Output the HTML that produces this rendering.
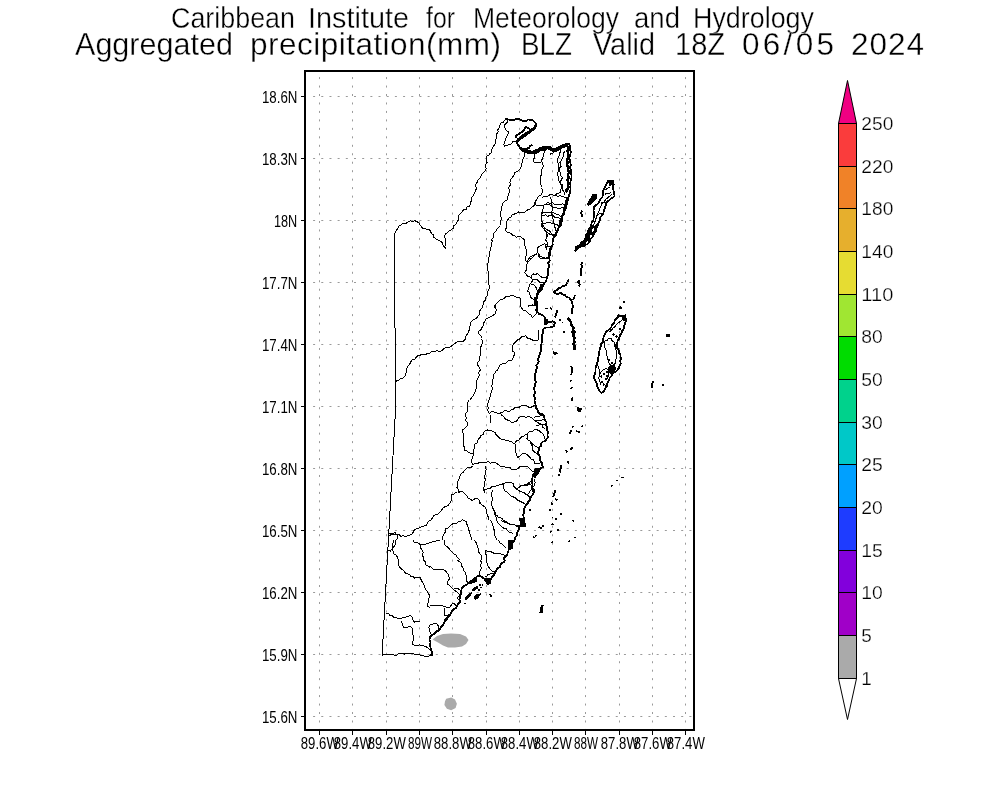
<!DOCTYPE html>
<html><head><meta charset="utf-8"><title>Aggregated precipitation BLZ</title>
<style>html,body{margin:0;padding:0;background:#fff;width:1000px;height:800px;overflow:hidden}svg{display:block;will-change:transform}</style>
</head><body>
<svg width="1000" height="800" viewBox="0 0 1000 800" font-family="Liberation Sans, sans-serif" fill="#000"><text x="171.0" y="27.9" font-size="29" text-anchor="start" textLength="124.0" lengthAdjust="spacingAndGlyphs" stroke="#fff" stroke-width="0.35">Caribbean</text>
<text x="308.0" y="27.9" font-size="29" text-anchor="start" textLength="101.0" lengthAdjust="spacingAndGlyphs" stroke="#fff" stroke-width="0.35">Institute</text>
<text x="426.0" y="27.9" font-size="29" text-anchor="start" textLength="29.0" lengthAdjust="spacingAndGlyphs" stroke="#fff" stroke-width="0.35">for</text>
<text x="473.0" y="27.9" font-size="29" text-anchor="start" textLength="146.0" lengthAdjust="spacingAndGlyphs" stroke="#fff" stroke-width="0.35">Meteorology</text>
<text x="634.0" y="27.9" font-size="29" text-anchor="start" textLength="46.0" lengthAdjust="spacingAndGlyphs" stroke="#fff" stroke-width="0.35">and</text>
<text x="693.0" y="27.9" font-size="29" text-anchor="start" textLength="121.0" lengthAdjust="spacingAndGlyphs" stroke="#fff" stroke-width="0.35">Hydrology</text>
<text x="75.0" y="55.2" font-size="31.5" text-anchor="start" textLength="158.0" lengthAdjust="spacingAndGlyphs" stroke="#fff" stroke-width="0.35">Aggregated</text>
<text x="250.0" y="55.2" font-size="31.5" text-anchor="start" textLength="251.0" lengthAdjust="spacing" stroke="#fff" stroke-width="0.35">precipitation(mm)</text>
<text x="521.0" y="55.2" font-size="31.5" text-anchor="start" textLength="51.0" lengthAdjust="spacingAndGlyphs" stroke="#fff" stroke-width="0.35">BLZ</text>
<text x="593.0" y="55.2" font-size="31.5" text-anchor="start" textLength="62.0" lengthAdjust="spacingAndGlyphs" stroke="#fff" stroke-width="0.35">Valid</text>
<text x="675.0" y="55.2" font-size="31.5" text-anchor="start" textLength="50.0" lengthAdjust="spacingAndGlyphs" stroke="#fff" stroke-width="0.35">18Z</text>
<text x="742.0" y="55.2" font-size="31.5" text-anchor="start" textLength="92.0" lengthAdjust="spacing" stroke="#fff" stroke-width="0.35">06/05</text>
<text x="851.0" y="55.2" font-size="31.5" text-anchor="start" textLength="73.0" lengthAdjust="spacing" stroke="#fff" stroke-width="0.35">2024</text>
<path d="M319.5 77.07V729 M352.5 77.07V729 M386.5 77.07V729 M419.5 77.07V729 M452.5 77.07V729 M486.5 77.07V729 M519.5 77.07V729 M552.5 77.07V729 M585.5 77.07V729 M619.5 77.07V729 M652.5 77.07V729 M685.5 77.07V729" stroke="#9a9a9a" stroke-width="1" stroke-dasharray="2 6.466" fill="none"/>
<path d="M313.1 96.5H693 M313.1 158.5H693 M313.1 220.5H693 M313.1 282.5H693 M313.1 344.5H693 M313.1 406.5H693 M313.1 468.5H693 M313.1 530.5H693 M313.1 592.5H693 M313.1 654.5H693 M313.1 716.5H693" stroke="#9a9a9a" stroke-width="1" stroke-dasharray="2 6.18" fill="none"/>
<path d="M432.5 639.5 437.0 636.0 443.0 634.0 451.0 633.5 460.0 634.0 466.0 636.5 468.5 640.0 466.0 644.0 462.0 646.5 455.0 647.5 448.0 647.5 443.0 645.5 438.0 642.5ZM446.2 698.8 451.2 697.5 455.0 699.4 456.9 703.8 455.6 708.1 451.2 710.2 446.9 708.8 444.4 705.0 445.0 701.2Z" fill="#aaaaaa" stroke="none"/>
<g id="map" fill="none" stroke="#000" stroke-width="1" stroke-linejoin="round" shape-rendering="crispEdges"><path d="M505.9 118.6 504.7 120.3 503.5 122.0 501.3 122.8 500.0 124.5M490.0 152.8 489.0 155.0 486.9 155.9 486.6 158.0 486.7 160.2 487.1 162.4 485.9 164.4 485.6 166.6 486.2 168.9 485.0 170.9 483.2 172.9 481.2 174.7 480.7 177.0 479.4 178.9 477.5 180.3 477.1 182.5 475.9 184.5 476.0 186.9 476.0 189.6 475.0 192.0 473.8 194.4 472.8 196.2 471.5 197.8 471.5 199.9 470.9 201.9 470.2 204.3 469.1 206.6 466.9 207.0 466.3 209.6 463.7 209.5 462.5 211.2 460.9 213.4 458.8 215.0 458.8 217.7 458.2 220.2 456.9 222.5 456.0 224.4 454.0 225.4 453.9 227.8 452.2 229.1 450.5 230.1 448.7 231.2 447.4 232.8 445.6 233.8 444.7 235.2 444.7 237.4 445.7 239.6 445.8 241.8 445.7 244.0 444.8 246.2 445.2 248.4 444.0 246.4 442.7 244.4 441.9 242.2 439.8 240.8 437.5 239.8 435.3 238.4 433.7 237.1 433.3 234.9 431.6 233.8 430.5 231.2 428.8 229.1 426.7 229.4 424.8 228.5 422.8 228.5 421.3 226.4 419.8 224.4 418.5 222.5 416.6 221.5 414.7 220.6 412.6 221.5 410.1 220.7 408.1 222.1 405.5 223.5 402.5 223.4 401.1 225.1 399.0 226.2 397.8 228.1 395.9 231.5M508.1 119.5 507.2 122.4 505.0 124.5 504.7 127.0 505.5 128.9 506.2 130.8 508.1 131.4 508.4 133.8 506.9 135.8 505.6 139.5 504.4 141.9 503.8 144.5 504.4 146.4 507.5 145.1 511.2 143.9 513.1 141.4 516.9 140.8M525.0 152.0 524.4 155.8 523.1 158.9 521.9 162.0M535.0 150.8 534.5 153.2 535.0 155.8 534.4 157.8 533.4 159.8 533.8 162.0M545.0 148.2 545.0 150.8 543.8 153.2 543.8 155.8 542.7 157.8 541.9 159.9 541.2 162.0M500.0 124.9 499.4 125.6 499.0 127.7 497.9 129.7 498.1 131.9 496.6 133.9 496.9 136.5 496.2 138.8 495.3 140.7 495.8 143.2 494.4 145.0 493.2 146.7 492.5 148.6 491.1 150.2 491.2 152.5 490.0 154.0M565.0 151.2 563.6 153.1 563.7 155.6 562.5 157.5 561.5 160.1 560.0 162.5 561.2 166.2 559.7 167.9 558.8 170.0 560.3 172.3 560.0 175.0 562.5 177.5 561.3 180.0 560.0 182.5 561.5 184.8 562.4 187.3 562.5 190.0 564.2 192.2 564.2 195.0M522.5 162.0 521.4 164.0 521.2 166.2 520.6 168.5 518.8 170.0 517.2 171.7 515.0 172.5 513.9 175.1 512.5 177.5 510.6 179.7 510.0 182.5 510.2 185.2 508.8 187.5 509.2 190.0 509.4 192.5 507.8 195.0M534.8 162.0 535.0 162.5 537.5 162.6 540.0 162.5 540.5 162.0M542.9 162.0 542.6 164.3 543.8 166.2 542.3 168.1 541.4 170.1 541.2 172.5 541.3 174.7 540.6 176.7 540.0 178.8 540.7 180.8 540.1 183.1 541.2 185.0 541.0 187.7 542.5 190.0 542.3 192.7 540.8 195.0M560.0 150.0 560.1 152.2 559.5 154.1 559.0 156.1 558.0 158.0 557.5 160.0 557.7 162.5 558.8 164.9 558.8 167.5 559.1 170.2 557.5 172.5 557.9 175.0 558.2 177.5 558.1 180.0 559.5 181.8 560.4 183.9 562.5 185.0 561.3 187.4 560.8 190.0 560.0 192.5 557.4 193.5 555.0 195.0 555.0 195.0M550.0 154.2 552.7 153.1 555.0 151.2M508.4 195.0 507.5 197.5 507.0 199.9 505.0 201.2 503.1 202.7 502.5 205.0 501.3 207.4 501.2 210.0 500.5 212.5 500.7 215.0 501.2 217.5 501.0 220.0 500.6 222.5 500.0 225.0M540.4 195.0 537.5 197.5 536.9 199.8 535.0 201.2 535.6 205.0 538.4 205.6 541.2 205.6 543.8 205.0M535.0 202.5 534.5 204.7 533.2 206.4 531.2 207.5 529.7 209.2 527.5 210.0 525.3 211.9 522.5 212.5 518.8 211.9 517.0 213.1 515.0 213.8 511.9 215.0 510.9 217.2 508.8 218.1 506.9 221.2 506.2 225.0 506.6 227.7 505.0 230.0 507.5 232.5 510.3 233.1 512.5 235.0 514.8 235.6 516.2 237.5 519.4 236.2 521.4 237.3 523.1 238.8 524.9 240.6 525.0 243.1 524.7 245.6 525.6 247.7 526.2 250.0M543.8 205.0 543.8 207.7 542.5 210.0 542.4 212.6 541.2 215.0 541.6 217.5 541.2 220.0 542.1 222.4 542.5 225.0 544.4 227.2 545.0 230.0 547.5 232.5 546.2 234.8 546.2 237.5 545.9 240.2 547.5 242.5 547.2 245.0 546.7 247.5 546.2 250.0M542.5 197.5 544.8 196.1 547.5 196.2 549.8 194.9 552.5 195.0M552.5 195.0 555.1 195.3 557.5 196.2 560.0 195.8 562.5 196.2 564.8 197.5 567.5 197.5M543.8 205.0 545.8 204.3 547.9 204.0 550.0 205.0 552.1 207.1 555.0 207.5 557.5 208.2 560.0 208.8 562.3 207.4 565.0 207.5M541.2 215.0 543.3 215.5 545.6 214.9 547.5 216.2 550.0 215.7 552.5 215.0 554.6 217.1 557.5 217.5 560.0 218.2 562.5 217.5M542.5 223.8 545.1 223.5 547.5 222.5 550.1 222.7 552.5 223.8 555.1 224.1 557.5 225.0 560.0 226.2M550.0 197.5 551.3 199.8 551.2 202.5 551.3 205.1 552.5 207.5 552.1 210.0 551.9 212.5 551.6 215.1 552.5 217.5 553.5 219.9 553.8 222.5 554.9 224.9 555.0 227.5 556.2 231.2M547.5 232.5 549.7 234.3 552.5 235.0 555.0 237.5M488.9 260.0 488.8 261.2 487.7 263.5 487.9 265.7 487.9 268.0 487.8 270.2 488.4 272.5 488.0 274.8 489.1 277.0 488.6 279.3 489.0 281.5 488.8 283.8 489.4 286.4 489.1 288.9 487.8 291.2 487.5 293.7 486.9 296.1 485.3 298.2 485.0 300.6 483.4 302.2 483.7 304.4 482.1 305.9 482.2 308.1 480.4 309.6 479.5 311.5 479.6 313.9 478.4 315.6 477.2 317.3 475.7 318.6 473.8 319.4 470.9 322.2 470.9 324.7 469.6 326.9 469.4 329.8 468.1 332.5 467.0 334.6 465.5 336.6 465.3 339.1 462.5 341.9 459.7 341.2 456.9 341.9 455.3 343.2 453.6 344.1 452.2 345.6 449.4 347.5 446.5 347.4 443.8 348.4 442.4 350.5 440.0 351.2 437.2 350.9 434.4 351.2 431.7 351.4 429.7 353.1 427.1 353.5 425.0 355.0 422.8 354.5 420.6 355.0 418.4 355.0 415.6 357.8 414.5 359.6 412.1 359.9 410.9 361.6 409.8 364.1 408.1 366.2 406.6 368.9 406.2 371.9 405.3 375.6 402.5 378.4 400.2 378.5 398.8 380.3 395.9 381.2M495.0 305.4 494.4 306.2 495.0 307.5M495.0 313.9 493.0 315.3 490.9 316.5 488.8 317.5 486.2 318.7 485.0 321.2 483.7 322.9 483.7 325.3 482.2 326.9 481.5 328.9 480.2 330.4 478.4 331.6 479.1 334.3 481.2 336.2 481.0 338.8 482.6 341.2 482.2 343.8 481.2 345.9 480.5 348.1 480.8 350.4 481.0 352.8 480.3 355.0 479.5 356.8 479.6 359.0 479.1 361.0 477.5 362.5 477.3 364.7 478.6 366.4 479.6 368.1 480.3 370.0 478.8 372.3 479.2 375.0 478.4 377.5 477.1 379.8 476.6 382.3 476.6 385.0 476.5 387.6 475.8 390.1 474.7 392.5 473.9 394.6 472.9 396.5 471.2 398.0 470.2 400.0M490.0 397.5 489.7 400.0M500.0 226.1 497.2 228.5 496.0 230.9 494.0 232.8 493.7 235.0 493.8 237.2 491.8 239.0 492.1 241.2 491.9 243.8 491.2 246.3 490.6 248.8 490.2 251.0 489.2 253.1 489.9 255.5 488.6 257.6 489.1 260.0M526.2 250.0 526.2 252.5 526.2 255.0 525.6 257.5 525.0 260.0 527.5 262.5 526.8 265.0 526.2 267.5 526.2 270.3 524.4 272.5 526.0 274.3 527.5 276.2 531.2 277.5 532.5 280.0 531.8 282.2 530.0 283.8 528.8 287.5 527.5 291.2 529.6 292.6 530.0 295.0 530.8 297.2 532.5 298.8 534.4 300.0M550.8 250.0 550.6 252.5 550.3 255.2 548.8 257.5 545.0 258.1 542.5 257.2 540.0 256.2 539.1 254.1 537.5 252.5 537.8 250.0M527.5 262.5 529.2 260.9 530.6 258.9 532.5 257.5 534.2 255.9 535.9 254.2 537.5 252.5M532.5 273.8 535.0 274.3 537.5 273.8 540.0 276.2 542.5 277.5 546.2 277.5M532.5 273.8 531.2 277.5M532.5 280.0 535.0 279.2 537.5 280.0 540.0 282.5 543.8 282.5M530.0 283.8 533.8 285.0 536.2 287.5 537.5 291.2 540.0 291.2M527.5 306.2 530.0 305.7 532.5 305.0 536.2 306.2 537.4 308.6 537.5 311.2 536.6 313.4 535.0 315.0 532.5 317.5 531.0 315.2 528.8 313.8 526.2 311.2 523.1 310.0M495.0 314.4 495.0 314.4 495.6 312.2 496.2 310.0 495.7 307.5 495.0 305.0 497.5 302.5 500.0 300.0 503.8 298.8 506.2 296.2 508.8 296.5 511.2 295.6 515.0 296.2 517.3 297.7 520.0 297.5 520.4 300.0 520.6 302.5 520.7 305.0 521.2 307.5 523.1 310.0M538.8 330.0 538.6 332.0 538.5 334.0 538.0 336.0 538.3 338.0 538.1 340.0 535.9 340.2 533.8 340.6 531.9 339.7 530.0 338.8 527.5 338.1 525.6 335.6 523.8 336.9 521.5 337.0 520.0 338.8 517.9 339.7 516.2 341.2 513.8 343.8 512.4 346.1 512.5 348.8 512.6 351.0 514.4 352.5 514.2 355.1 513.1 357.5 512.5 360.0 508.8 360.6 506.8 362.1 505.0 363.8 502.5 363.8 500.0 365.0 498.8 367.5 497.5 370.0 495.7 371.1 495.0 373.1 493.1 375.0 493.5 377.6 492.5 380.0 493.0 382.2 492.2 384.2 491.9 386.2 492.5 388.4 492.0 390.5 491.2 392.5 490.0 395.0 491.2 397.5M490.0 412.5 492.5 411.6 495.0 412.5 497.5 413.1 500.0 413.1 502.8 412.0 505.0 410.0 507.3 411.4 510.0 411.2 511.3 409.4 513.6 409.1 515.0 407.5 517.5 407.5 520.0 406.9 521.6 405.3 523.8 405.0 527.5 406.2 530.0 408.1 532.5 406.2 535.6 405.6M500.6 413.1 501.6 415.2 503.8 416.2 505.0 418.8 507.5 420.0 509.7 420.8 511.2 422.5 515.0 421.9 517.6 420.3 518.8 417.5 522.5 416.2 526.2 417.5 528.8 416.2 531.2 417.5 533.8 420.0 535.7 421.1 537.5 422.5 540.0 423.7 542.5 425.0 542.9 427.4 545.0 428.8M490.0 415.0 490.0 417.7 491.2 420.0 490.0 422.5M533.8 417.5 535.9 416.3 538.2 416.4 540.5 416.0 542.7 415.2 545.0 415.0M535.0 421.2 536.9 420.4 539.0 420.4 541.1 420.9 542.9 419.3 545.0 420.0M536.2 425.0 538.2 425.1 540.2 424.9 542.2 424.0 544.2 424.7 546.2 425.0M469.2 400.0 468.1 401.2 467.6 403.7 467.5 406.2 467.2 408.8 467.8 411.2 465.8 413.3 465.9 415.7 466.2 418.1 465.6 420.7 467.7 423.0 467.2 425.6 465.9 427.2 464.6 428.8 462.5 429.4 462.2 431.8 463.4 434.0 463.9 436.3 463.4 438.8 463.8 441.0 463.0 443.3 463.4 445.6 464.7 447.7 464.4 450.0 466.6 450.3 468.1 451.9 470.7 453.6 473.8 453.8 472.7 456.5 471.9 459.4 471.9 462.3 472.8 465.0M488.1 400.0 488.3 402.7 486.9 405.0 488.4 407.3 487.8 410.1 488.8 412.5 490.0 413.8M480.0 436.9 478.9 438.8 477.5 440.6 477.3 442.9 474.8 444.0 474.7 446.2 474.1 448.7 473.5 451.2 473.8 453.8M472.8 465.0 474.7 463.3 477.5 463.8 479.4 462.2 480.0 462.1M472.8 465.9 471.0 467.7 468.2 467.1 466.2 468.8 464.4 470.7 462.7 472.7 460.6 474.4 459.6 477.2 458.8 480.0 457.3 482.3 458.0 485.1 456.9 487.5 458.5 489.6 458.8 492.2 462.5 491.2 464.3 493.2 466.2 495.0 467.7 496.6 468.1 498.8 470.3 499.0 471.9 500.6 474.5 499.0 477.5 498.8 479.6 500.8 480.0 503.8M490.0 520.0 491.8 522.2 492.5 525.0 493.5 527.4 494.1 529.9 494.4 532.5 494.5 535.1 496.0 537.4 496.2 540.0M456.9 492.2 455.0 493.1 453.4 494.6 451.2 495.0 451.2 497.5 451.6 500.1 450.3 502.5 449.1 504.1 447.8 505.8 445.6 506.2 443.4 507.8 441.8 509.9 440.0 511.9 438.5 513.8 436.3 514.7 433.9 515.4 432.5 517.5 431.2 519.9 428.8 521.2 427.2 522.8 426.9 525.0 424.1 526.1 421.2 526.9 419.4 527.8 417.5 528.8 415.3 529.1 413.8 530.6 413.0 532.6 411.9 534.4 409.1 535.3 406.2 536.2 403.4 535.9 400.6 536.2 399.2 534.4 396.9 534.4 394.1 534.7 391.2 534.4 389.4 536.2M462.5 519.4 464.1 520.9 466.2 521.2 466.8 524.2 468.1 526.9 468.5 529.4 469.6 531.8 470.0 534.4 471.2 537.1 471.9 540.0M462.5 519.4 461.0 521.1 458.8 521.2 457.2 522.8 455.4 523.9 452.9 523.6 451.2 525.0 449.6 526.7 447.9 528.1 445.6 528.8 445.5 531.8 443.8 534.4 442.6 537.1 442.8 540.0M523.8 520.0 522.4 522.3 522.5 525.0 520.5 525.6 518.8 526.9 516.7 526.3 515.0 525.0 512.4 524.9 509.9 524.2 507.5 523.1 505.4 522.2 503.0 521.7 501.2 520.0M535.0 478.8 534.9 480.8 535.1 483.0 534.4 485.0 533.0 487.3 532.6 489.8 533.1 492.5 532.1 495.0 531.2 497.5M480.0 437.5 480.8 435.5 483.2 434.7 483.8 432.5 485.4 430.9 487.5 430.0 490.1 430.3 492.5 431.2 495.1 432.4 496.2 435.0 498.3 436.7 500.0 438.8 502.5 439.3 505.0 440.0 507.5 440.6 510.0 441.2 512.2 442.0 513.8 443.8 515.4 442.5 516.5 440.5 518.8 440.0 520.1 438.4 521.6 436.8 523.8 436.2 525.5 434.8 527.5 433.8 529.6 431.7 532.5 431.2 534.8 429.7 537.5 430.0M537.5 430.0 539.6 430.9 541.2 432.5 543.8 435.0 545.0 438.8M527.5 433.8 527.7 436.3 526.9 438.8 528.3 440.1 530.0 441.2 531.8 443.2 533.8 445.0 536.0 446.7 538.8 447.5M515.0 443.8 515.0 446.3 515.6 448.8 515.5 451.3 516.2 453.8 517.5 457.5 520.0 456.2 522.5 453.8 525.0 453.1 527.5 455.0 530.0 457.5 531.5 459.4 533.8 460.0 535.0 463.8 538.8 463.8 541.2 462.5M530.0 441.9 531.0 443.7 532.0 445.5 532.5 447.5 532.9 450.4 535.0 452.5 537.4 453.9 538.8 456.2M480.0 462.5 482.1 462.9 484.2 462.8 486.2 462.5 488.3 461.6 490.4 463.2 492.5 462.5 496.2 463.1 498.8 465.0 500.6 466.4 502.8 466.5 505.0 466.9 507.4 467.7 510.0 467.5 511.5 469.3 513.8 470.0 517.5 468.8 519.7 466.9 522.5 466.2 525.0 466.3 527.5 466.2 530.0 468.8 532.5 471.2 535.0 472.5M485.0 465.6 485.6 467.8 486.2 470.0 485.0 472.3 485.0 475.0 484.7 477.6 485.6 480.0 484.4 482.3 484.4 485.0 483.9 487.5 483.8 490.0 485.0 492.5M483.8 490.0 487.5 488.8 490.4 488.2 492.5 486.2 494.7 486.2 496.7 485.8 498.8 485.0 502.5 483.8 506.2 482.5 508.8 482.0 511.2 482.5 513.3 483.9 513.8 486.2 516.2 488.8 518.8 487.5 520.9 485.6 523.8 485.0 527.5 483.8 529.2 482.3 531.2 481.2M502.5 483.8 503.9 486.1 503.8 488.8 505.2 491.1 507.5 492.5 509.3 494.5 511.2 496.2 515.0 497.5 517.5 500.0 520.0 501.2 522.5 502.5 525.0 503.8M516.2 488.8 518.0 490.2 520.0 491.2 523.8 492.5 525.5 494.0 527.5 495.0 530.0 497.5M492.5 490.0 491.8 492.5 491.9 495.0 491.9 497.1 492.9 499.2 491.9 501.2 491.5 503.4 491.8 505.5 492.5 507.5 493.7 510.0 495.0 512.5 495.6 515.0 496.2 517.5 496.9 520.0M480.0 502.5 481.6 504.6 483.8 506.2 485.7 507.6 486.2 510.0 486.4 512.6 487.5 515.0 488.3 517.4 488.1 520.0M523.8 486.2 527.5 485.0 530.0 483.8 531.3 485.7 531.3 487.8 531.2 490.0 529.6 491.6 528.8 493.8M382.9 655.0 385.2 654.1 387.7 654.9 390.0 654.1 393.8 655.0 396.9 655.0 399.4 653.1 402.2 653.6 405.0 654.1 407.5 653.5 410.0 653.4 412.5 653.1 415.2 654.4 418.1 655.0 420.0 654.9M394.2 540.0 393.8 540.6 392.9 543.1 392.9 545.6 392.8 548.1 393.0 551.0 393.8 553.8 396.2 555.0 397.5 557.5 398.5 559.9 398.6 562.4 398.4 565.0 399.5 567.2 401.2 568.8 403.4 570.3 405.0 572.5 406.8 573.9 409.3 574.2 410.6 576.2 412.9 576.4 414.4 578.1 417.1 577.2 420.0 577.2 421.0 579.5 422.2 581.8 423.8 583.8 424.4 586.7 425.6 589.4 427.2 591.0 428.1 593.1 429.4 595.0 429.0 597.8 428.4 600.6 428.0 603.4 427.5 606.2 430.0 607.5M413.1 540.0 414.4 542.5 417.4 542.7 420.0 544.4 420.2 547.4 421.9 550.0 423.1 552.4 422.2 555.2 423.8 557.5 423.5 560.2 425.9 562.3 425.6 565.0 427.5 565.9 429.4 566.9 430.0 567.2M420.0 544.4 422.6 544.7 425.1 544.7 427.5 543.4 430.0 542.7 432.4 541.7 435.0 541.6 437.2 540.2 439.7 540.0M444.0 540.0 444.4 542.5 444.5 544.8 446.2 546.2 448.5 547.7 450.0 550.0 451.8 552.0 453.8 553.8 456.1 555.1 457.5 557.5 460.0 560.0M473.8 540.0 476.2 542.5 477.1 545.3 478.1 548.1 478.2 551.2 480.0 553.8 481.6 555.3 481.9 557.5 481.2 560.0M498.1 540.0 498.8 540.6 500.2 543.0 502.5 544.4 504.4 546.3 506.2 548.1M485.6 550.0 488.2 551.7 491.2 551.9 493.9 553.2 496.9 553.8 499.8 553.7 502.5 554.7 506.2 555.6M485.6 550.0 485.1 552.6 486.3 555.0 486.6 557.5 487.0 560.0M386.2 613.8 388.6 613.8 390.0 615.6 392.3 615.7 393.8 617.5 396.6 618.0 399.4 618.4 402.2 617.9 405.0 617.5 407.7 616.2 410.6 615.6 412.2 617.2 412.5 619.4 414.4 622.2 417.1 621.4 420.0 621.2M401.2 621.2 402.5 623.9 403.1 626.9 405.9 627.6 408.8 626.9 411.1 626.9 412.5 628.8 412.3 631.3 412.5 633.8 413.4 636.2 413.7 639.2 412.5 641.9 412.7 644.1 414.4 645.6 417.3 645.6 420.0 644.7M430.0 625.0 428.9 627.4 429.4 630.0 430.1 632.4 430.0 635.0M420.0 645.0 422.6 645.4 425.0 646.2 427.5 647.5 430.0 650.0M420.0 655.0 422.6 655.4 425.0 656.2 427.6 656.9 430.0 655.6M430.0 566.0 431.4 567.6 433.0 569.0 436.0 569.5 438.0 569.0 440.0 569.0 442.0 569.4 444.0 570.0 445.8 571.2 447.0 573.0 448.8 574.6 449.0 577.0 449.3 579.2 448.0 581.0 447.5 584.0 450.0 586.0 452.0 588.0 454.0 590.0 457.0 592.0 459.0 594.0M457.0 560.0 460.0 562.0 462.0 564.0 461.9 566.2 463.0 568.0 464.0 571.0 465.4 572.8 466.0 575.0 467.0 578.0 466.0 580.0 468.0 583.0M480.0 560.0 482.0 563.0 480.7 564.8 481.0 567.0 481.0 569.1 480.0 571.0 479.0 574.0 480.0 576.0M486.0 560.0 487.0 563.0 488.0 566.0 490.0 569.0 492.0 571.0 494.0 572.0 496.0 571.0 498.0 569.0M430.0 606.0 432.4 605.0 435.0 605.0 437.5 605.0 440.0 605.0 443.0 606.0 446.0 607.0 448.0 608.0 450.0 607.0 452.0 604.0 454.0 603.0 456.0 606.0M454.0 589.0 457.0 588.0 460.0 590.0 462.0 593.0 460.9 594.9 459.0 596.0 457.0 598.0 459.0 600.0 461.0 601.0M444.0 608.0 444.7 609.9 445.0 612.0 444.0 615.0 447.0 616.0 450.0 614.0 452.0 612.0M430.0 624.0 432.2 624.4 434.0 623.0 437.0 624.0 439.0 627.0 438.0 630.0 435.0 632.0M485.0 577.0 487.0 576.0 488.0 574.0 490.2 574.1 492.0 573.0 495.0 575.0M543.8 205.0 545.8 204.0 547.5 202.5 550.0 203.3 552.5 202.5 554.6 204.5 557.5 205.0 560.0 204.5 562.5 203.8 566.2 205.0M541.2 212.5 545.0 212.5 547.5 212.9 550.0 212.5 552.7 212.3 555.0 213.8 558.8 215.0 560.4 216.6 562.5 217.5M543.8 227.5 545.7 228.7 547.5 230.0 550.0 231.2 551.5 233.5 553.8 235.0M541.2 212.5 541.0 215.0 541.7 217.5 541.2 220.0 542.6 222.4 541.2 225.1 542.5 227.5 544.3 228.7 545.0 230.8 546.2 232.5 547.2 234.9 547.5 237.5M611.7 193.8 610.6 195.6 608.6 196.6 607.5 198.5 605.3 199.3 604.7 201.9 602.8 203.1 601.2 205.3 600.0 207.8 599.5 210.3 598.1 212.5 597.1 214.8 596.3 217.2 595.8 219.6 594.9 221.9 594.3 224.1 592.5 225.7M605.6 190.0 607.6 188.0 610.3 187.2M604.7 194.7 606.7 193.2 609.4 193.6 611.3 191.9M601.0 203.1 603.3 202.7 605.6 202.2M597.2 215.3 599.3 213.9 601.9 213.5M604.9 341.1 607.1 340.4 608.3 338.5 611.6 338.3 612.0 340.7 614.0 342.1 614.6 344.2 615.7 346.1 615.5 348.3 616.3 350.7 616.6 353.2 616.0 355.7 616.1 358.3 615.5 360.9 615.3 363.2 613.6 364.8 611.1 365.7 609.3 363.5 608.5 360.9 607.3 359.0 607.2 356.7 606.4 354.7 606.6 352.1 605.9 349.8 604.9 347.4 604.7 345.3 604.7 343.2 604.9 341.1M609.7 331.8 611.4 330.2 612.8 328.3 614.7 326.8 616.5 324.5 618.7 322.6 621.7 320.4M600.6 373.8 601.1 371.5 603.0 370.1 606.0 368.3 608.1 370.1 608.8 373.0 608.6 376.0 607.3 377.9 608.6 380.3 607.6 382.3 606.3 384.7 605.1 387.1M597.4 363.2 597.9 365.4 598.2 367.7 599.6 369.6 599.9 371.8 599.5 373.9 599.3 376.0 598.5 378.1 599.4 380.1 600.0 382.3 600.6 384.5M389.0 533.0 391.3 533.6 393.4 533.2 395.5 532.2 396.1 534.4 398.0 535.7 397.9 538.3 396.0 540.0 395.5 543.0 394.8 546.0 392.5 548.0 390.5 551.0 388.5 550.0M537.5 247.5 541.0 245.6 544.4 243.8 546.2 244.4 545.6 247.5 548.1 246.2 550.6 246.2 549.9 248.4 550.0 250.6 548.6 252.9 548.8 255.6 548.1 258.8 545.6 258.8 542.8 258.5 540.0 258.1 538.1 255.0 538.0 252.8 537.5 250.6 537.5 247.5M537.5 251.9 536.3 254.1 534.0 254.8 532.0 256.0 530.1 257.1 528.9 258.8 527.6 260.4 526.9 262.5M494.0 511.9 494.6 514.3 497.1 515.3 498.1 517.5 500.4 517.8 502.2 518.9 503.7 520.6 505.6 521.6 508.0 522.8 510.3 524.1 513.1 524.1 515.0 525.0 517.0 525.3 519.1 525.4M496.2 517.5 496.7 520.5 498.1 523.1 500.1 524.9 501.9 526.9 503.7 528.2 506.1 528.6 507.5 530.6 509.0 532.3 511.5 532.7 513.1 534.4" stroke-width="1"/><path d="M396.0 231.5 394.5 234.0 394.5 328.0 395.5 328.0 395.5 410.0 382.5 648.0 382.5 655.5" stroke-width="1"/><path d="M505.9 118.6 509.4 119.8 512.5 120.1 515.0 119.5 518.1 118.6 520.6 120.1 523.8 121.1 526.2 121.1 528.1 119.5 530.3 119.9 532.5 119.8 535.0 122.6 536.6 125.1 535.6 127.0 533.1 128.9 530.0 130.8 527.5 133.2 525.0 135.8 523.3 137.3 521.2 138.2 518.1 140.1 516.9 142.0 518.1 145.1 520.0 147.6 522.5 149.5 524.5 150.2 525.6 152.0 529.4 153.2 532.5 152.0 534.2 150.6 536.2 150.1 538.2 149.4 540.0 148.2 543.8 147.0 546.9 147.0 548.2 148.6 550.0 149.5M515.9 138.2 516.2 135.8 518.8 133.9 521.2 132.6 523.8 130.1 525.6 127.0 527.5 127.6 530.0 129.5M526.2 150.1 527.3 148.3 529.4 147.6 530.4 145.6 532.5 144.8M550.0 149.5 552.5 150.4 555.0 151.2 557.6 150.1 560.0 148.8 562.4 147.0 565.0 145.6 566.6 144.2 568.8 143.8 570.0 145.0M570.0 145.0 570.0 147.5 569.8 149.6 571.0 151.7 570.4 153.8 570.1 155.8 569.1 157.9 570.0 160.0 570.2 162.6 571.0 165.0 570.1 167.5 570.8 170.0 570.6 172.5 571.4 175.0 571.5 177.5 571.2 180.0 570.1 182.4 570.4 185.0 570.6 187.5 570.4 190.1 570.3 192.7 568.8 195.0 568.7 195.0M569.1 195.0 568.6 197.5 568.1 200.0 567.2 202.0 567.0 204.2 566.2 206.2 566.1 208.5 564.7 210.3 564.4 212.5 562.6 214.7 562.5 217.5 562.4 220.1 561.2 222.5 560.8 225.4 558.8 227.5 557.8 230.1 556.2 232.5 555.1 235.1 553.8 237.5 552.8 239.9 552.5 242.5 552.7 245.1 551.1 247.4 551.2 250.0M575.0 247.7 575.0 247.7M575.0 246.7 575.0 246.7M550.5 250.0 550.0 252.5 549.3 254.5 549.6 256.7 549.4 258.8 549.8 260.9 548.0 262.8 548.8 265.0 548.9 267.5 547.7 269.9 548.1 272.5 548.0 275.1 546.9 277.5 546.5 280.2 545.0 282.5 543.3 284.8 542.5 287.5 541.6 289.6 540.0 291.2 538.0 292.6 537.5 295.0 536.9 297.5 536.2 300.0 537.2 302.4 536.9 305.0 537.1 307.6 536.2 310.0 537.6 311.8 538.8 313.8 542.5 315.0 545.0 317.5 546.0 319.6 547.5 321.2 550.0 322.5 552.5 321.2 555.0 322.5 553.8 326.2 550.0 327.5 546.2 327.5 543.8 328.8 542.9 330.0M575.0 251.2 575.8 250.0M582.5 262.5 581.2 264.4 582.4 266.8 581.2 268.8 581.3 271.3 581.4 273.8 580.6 276.2M579.4 280.0 578.2 282.0 579.7 284.2 578.8 286.2M568.8 278.8 567.5 282.5 566.4 284.5 564.7 285.7 562.5 286.2 561.0 287.7 558.7 288.1 557.5 290.0 555.2 290.6 553.8 292.5 556.2 293.8 558.9 293.6 561.2 292.5 562.6 294.6 565.0 295.0 566.4 297.0 568.8 297.5 571.2 300.0 572.2 302.4 572.5 305.0 573.1 307.2 571.6 309.4 572.0 311.6 572.5 313.8M575.0 295.0 573.8 298.8 572.5 300.0M545.6 308.8 547.5 308.1M550.0 308.1 551.9 308.8M557.5 310.0 556.2 313.8 555.0 317.5M542.5 330.0 543.2 332.6 541.8 335.0 541.9 337.5 541.9 340.0 541.7 342.5 541.2 345.0 541.2 347.1 541.2 349.1 541.1 351.2 540.2 353.1 539.4 355.0 539.2 357.2 537.5 359.2 538.7 361.7 537.5 363.8 536.2 365.7 537.2 368.0 536.2 370.0 536.3 372.0 535.1 373.9 534.9 375.9 535.4 378.0 535.0 380.0 535.8 382.1 534.8 384.0 534.9 386.0 533.7 387.9 534.4 390.0 535.0 392.0 534.6 394.0 533.6 396.0 535.3 398.0 534.4 400.0 535.2 402.5 535.6 405.0 536.0 407.7 537.5 410.0 538.3 412.2 540.0 413.8 542.4 414.2 543.8 416.2 545.0 420.0 546.5 422.3 546.2 425.0 547.4 427.4 546.9 430.0M572.5 330.0 572.3 332.7 573.8 335.0 574.4 337.5 573.7 340.0 574.4 342.5 573.8 344.7 575.1 346.6 575.0 348.8 575.6 350.0M571.2 366.2 572.0 368.7 571.9 371.2 571.2 375.0M570.6 380.0 571.2 381.2M571.9 386.9 571.2 388.8M571.9 397.5 572.5 401.2M572.5 425.6 573.1 427.5M581.9 425.6 582.5 427.5M653.6 381.4 652.1 383.3 652.1 385.7 651.8 387.9M662.2 384.9 664.1 384.9M521.9 520.0 521.7 522.6 520.6 525.0 519.3 526.7 519.1 528.9 518.2 530.8 516.9 532.5 517.2 535.2 515.1 537.4 515.0 540.0 515.0 540.0M547.2 430.0 548.1 432.5 547.3 435.0 548.1 437.5 546.4 439.2 545.0 441.2 542.6 441.8 541.2 443.8 540.8 446.2 538.8 447.5 539.0 450.1 538.1 452.5 539.1 455.0 540.0 457.5 540.1 460.3 541.9 462.5 541.6 464.9 543.1 466.9 540.0 468.8 538.3 470.2 536.2 471.2 535.1 473.4 533.1 475.0 532.6 477.5 531.9 480.0 532.2 482.5 532.5 485.0 532.3 487.7 533.8 490.0 533.7 492.7 532.5 495.0 530.7 497.2 530.0 500.0 528.4 501.6 527.5 503.8 525.7 505.3 525.0 507.5 523.8 509.9 523.8 512.5 523.3 515.0 523.7 517.5 523.1 520.0M571.2 430.0 570.0 433.8M576.2 431.2 580.0 431.9M566.2 450.0 567.5 452.5M570.0 450.0 572.5 447.5M567.5 461.2 568.8 463.8M561.2 465.0 561.0 467.6 560.0 470.0 560.6 472.5M555.0 490.0 554.6 492.6 553.8 495.0 552.5 497.5M555.0 498.8 557.5 500.0M551.2 502.5 552.5 505.0M514.8 540.0 512.9 541.9 511.9 544.4 511.7 546.6 510.5 548.4 508.6 549.8 508.1 551.9 507.3 554.0 506.3 556.1 504.4 557.5 503.5 560.0M430.0 636.2 429.4 640.0 430.6 642.4 430.0 645.0 430.5 647.5 431.2 650.0 432.5 652.5 431.9 655.0 430.0 655.6M611.2 486.2 612.5 485.0M621.2 477.5 623.8 477.5M505.0 560.0 504.0 562.0 501.7 562.9 500.6 564.8 500.0 567.0 497.3 568.3 496.0 571.0 495.1 573.3 494.0 575.5 492.0 577.0 491.1 579.5 489.0 581.0 488.0 584.0M486.0 580.0 484.0 578.5 482.0 577.0 480.1 576.1 478.0 576.0 476.1 577.3 474.0 578.5 472.4 580.7 470.0 582.0 468.1 583.6 466.0 585.0 463.9 586.3 462.0 588.0 461.2 590.4 461.0 593.0 460.0 595.4 460.0 598.0 459.3 600.0 460.0 602.0 458.2 603.8 457.0 606.0 456.0 608.0 454.0 609.0 452.0 610.6 451.0 613.0 449.8 615.2 448.0 617.0 446.4 618.9 445.0 621.0 444.2 623.1 443.0 625.0 441.1 626.7 440.0 629.0 438.4 631.0 436.0 632.0 434.3 633.9 432.0 635.0 430.0 637.0M490.0 594.0 491.5 597.5M612.7 180.2 613.3 182.2 613.7 184.2 613.2 186.3 612.7 188.6 613.6 190.7 614.1 192.8 614.6 196.1 613.1 197.6 611.3 198.5 609.5 200.0 607.5 201.3 605.7 203.2 605.6 206.0 604.7 208.3 603.8 210.6 603.3 213.2 601.9 215.3 600.4 217.5 600.0 220.0 598.8 222.3 598.1 224.7 596.3 226.7 596.3 229.4 596.0 231.6 594.4 233.2 593.5 235.1 592.5 236.9 590.8 238.5 590.2 240.7 587.8 243.5 585.6 244.1 584.1 245.8 581.5 245.7 579.4 247.2 576.6 249.6 575.0 249.3M575.0 247.1 577.5 246.3 580.3 244.4 581.6 242.3 584.1 241.6 584.6 239.5 585.9 237.9 585.9 235.3 587.4 233.2 587.5 231.1 588.8 229.4 590.5 228.0 590.6 225.7 591.5 223.8 592.0 221.9 593.6 220.3 593.5 218.2 594.4 214.4 593.5 210.6 593.9 206.9 596.3 205.0 599.1 202.2 599.8 200.2 601.0 198.5 602.5 196.9 602.8 194.7 603.3 190.9 603.9 189.0 604.7 187.2 606.6 184.4 607.1 182.3 608.5 180.6 610.6 180.9 612.7 180.2M582.2 210.6 581.0 212.7 582.4 215.1 581.3 217.2M618.2 314.8 620.9 316.4 623.0 316.0 625.1 315.3 625.0 317.5 626.0 319.5 625.6 321.7 625.1 323.9 624.0 326.0 623.6 328.9 621.9 331.3 621.4 333.7 619.8 335.5 619.2 338.4 617.7 340.9 617.2 343.5 617.1 346.2 617.4 348.4 618.8 350.3 618.7 352.6 620.4 354.4 620.5 356.7 620.9 358.9 620.1 361.0 620.8 363.3 619.8 365.3 619.1 367.6 617.7 369.6 615.9 371.6 613.4 372.8 611.3 376.0 609.7 377.8 609.1 380.2 608.0 382.3 607.0 384.5 606.7 387.0 604.9 388.7 603.9 391.3 601.7 393.0 599.6 390.9 598.3 388.8 597.4 386.6 596.8 384.4 596.3 382.3 595.3 380.2 594.3 378.2 594.3 376.0 594.8 373.8 595.6 371.8 595.4 369.5 595.6 367.4 596.4 365.3 596.5 363.1 598.3 361.3 597.6 358.8 598.5 356.8 599.0 354.7 598.9 352.5 599.6 350.4 599.8 348.3 601.0 346.3 600.6 344.0 602.6 342.4 602.8 339.8 603.6 337.0 604.9 334.5 606.0 332.0 608.1 330.2 610.0 328.9 611.3 327.0 612.4 324.5 614.5 322.8 614.6 320.2 616.6 318.5 618.1 317.0 618.2 314.8" stroke-width="1.8"/><path d="M567.5 197.5 567.0 199.7 565.6 201.7 565.8 204.1 565.0 206.2 563.7 208.0 564.0 210.2 564.0 212.3 563.8 214.4 562.2 216.0 561.5 218.0 561.2 220.0 559.7 221.7 560.5 224.3 558.8 225.9 558.5 228.1 557.5 230.0 556.6 231.9 556.3 234.1 555.1 235.8 553.8 237.5" stroke-width="2"/><path d="M568.8 146.2 568.5 148.7 567.5 151.2 568.1 153.8 568.7 156.0 567.8 158.1 567.0 160.3 567.5 162.5 566.8 165.1 568.5 167.4 568.1 170.0 569.1 172.4 567.7 175.1 568.8 177.5 567.6 179.9 568.4 182.5 568.1 185.0 568.6 187.6 566.5 189.9 566.9 192.5M567.5 318.0 569.4 319.9 571.0 322.0 571.1 324.3 572.4 326.1 573.5 328.0 573.0 330.1 574.5 331.9 574.0 334.0 573.4 336.0 574.6 338.0 574.0 340.0 574.4 342.0 573.6 344.1 574.5 346.0 574.1 348.1 575.0 350.0M541.5 284.0 541.3 286.2 540.4 288.2 539.0 290.0 537.9 292.6 536.5 295.0M535.5 297.0 535.1 299.5 534.8 302.0 535.1 304.0 535.0 306.0" stroke-width="2.5"/><path d="M536.2 124.5 534.7 127.6 533.4 129.5 531.2 130.1 530.0 131.8 528.1 132.6 526.3 133.5 525.0 135.1 522.7 135.7 521.2 137.6 518.4 139.5 517.2 141.4" stroke-width="3"/><path d="M520.0 147.5 522.5 150.0 525.2 149.7 527.5 151.2 530.0 152.0 532.5 152.5 535.1 152.4 537.5 151.2 539.6 149.2 542.5 148.8 545.2 148.8 547.5 147.5 550.3 148.1 552.5 150.0 555.0 149.6 557.5 148.8 560.0 147.6 562.5 146.2 565.1 145.6 567.5 144.4" stroke-width="3.5"/><path d="M554.4 355.0 557.5 353.1 553.1 351.9 554.4 355.0ZM578.1 411.9 580.6 411.2 581.2 408.8 577.5 407.5 578.1 411.9ZM621.9 308.6 620.6 306.5 619.2 308.6 621.9 308.6ZM666.6 336.8 669.4 336.8 669.4 334.0 666.6 334.0 666.6 336.8ZM533.1 476.2 535.0 477.5 538.8 472.5 540.0 468.1 535.0 468.8 533.1 476.2ZM539.8 612.9 542.2 612.5 543.1 605.4 541.2 605.9 539.8 612.9ZM485.0 581.0 488.0 584.5 490.5 583.0 490.0 579.0 484.0 578.0 485.0 581.0ZM473.0 591.0 477.0 588.5 477.5 586.5 474.0 588.0 472.0 590.0 473.0 591.0ZM466.0 600.0 470.5 595.0 471.5 592.5 468.0 595.0 465.0 599.0 466.0 600.0ZM475.5 599.5 479.5 596.5 480.5 594.0 477.0 594.5 474.0 597.0 475.5 599.5ZM470.0 584.0 476.0 581.5 477.0 578.5 472.0 580.0 467.0 583.0 470.0 584.0ZM445.0 622.0 447.5 619.0 447.0 617.0 444.0 620.0 445.0 622.0ZM590.6 225.7 588.8 229.4 587.4 233.2 585.9 237.9 584.1 241.6 580.3 244.4 577.5 246.3 575.0 247.1 575.0 249.3 576.6 249.6 579.4 247.2 584.1 245.8 587.8 243.5 590.2 240.7 592.5 236.9 594.4 233.2 596.3 229.4 598.1 224.7 590.6 225.7ZM609.4 185.3 613.2 184.4 612.7 180.2 608.5 180.6 609.4 185.3ZM590.8 198.5 588.8 201.3 587.4 204.6 588.8 205.2 592.7 202.2 596.5 198.5 596.7 194.2 592.5 194.9 590.8 198.5ZM608.6 371.7 611.3 373.8 615.5 369.6 614.5 365.3 609.1 366.4 608.6 371.7ZM623.0 320.1 625.3 320.6 625.1 315.3 621.9 316.4 623.0 320.1ZM544.0 320.0 547.0 319.0 548.0 323.0 545.0 325.0ZM519.5 518.5 524.5 518.0 525.5 527.0 521.0 526.5ZM508.0 541.0 513.0 540.6 512.5 549.0 508.4 548.8Z" fill="#000" stroke-width="1"/><path d="M592.1 232.4 593.6 231.3 593.5 228.0 591.8 228.9 592.1 232.4ZM589.9 238.3 591.4 237.7 591.8 234.3 590.2 235.5 589.9 238.3ZM585.9 243.9 587.6 243.0 588.3 240.7 586.4 241.8 585.9 243.9ZM594.0 226.4 595.3 225.7 595.5 223.0 594.2 223.8 594.0 226.4Z" fill="#fff" stroke="none"/><g fill="#000" stroke="none"><circle cx="560.0" cy="320.0" r="1"/><circle cx="562.5" cy="322.5" r="1"/><circle cx="563.8" cy="331.9" r="1"/><circle cx="624.0" cy="301.7" r="1"/><circle cx="558.8" cy="475.0" r="1.2"/><circle cx="550.0" cy="510.0" r="1.2"/><circle cx="530.0" cy="510.0" r="1"/><circle cx="561.2" cy="513.8" r="1"/><circle cx="552.5" cy="517.5" r="1"/><circle cx="556.2" cy="518.8" r="1"/><circle cx="552.5" cy="524.4" r="1.1"/><circle cx="573.1" cy="520.6" r="1.1"/><circle cx="539.4" cy="527.2" r="1.1"/><circle cx="541.2" cy="528.1" r="1.1"/><circle cx="543.1" cy="526.2" r="1.1"/><circle cx="533.8" cy="537.5" r="1.1"/><circle cx="535.6" cy="535.6" r="1.1"/><circle cx="550.6" cy="531.9" r="1.1"/><circle cx="558.1" cy="530.0" r="1.1"/><circle cx="552.5" cy="542.2" r="1.1"/><circle cx="569.4" cy="541.2" r="1.1"/><circle cx="575.0" cy="537.5" r="1.1"/><circle cx="616.9" cy="480.6" r="1"/><circle cx="480.0" cy="585.0" r="1.1"/><circle cx="482.5" cy="585.0" r="1.1"/><circle cx="479.0" cy="590.0" r="1.1"/><circle cx="465.0" cy="603.5" r="1.1"/><circle cx="481.0" cy="587.5" r="1.1"/><circle cx="603.8" cy="373.8" r="1.2"/><circle cx="606.0" cy="379.1" r="1.2"/><circle cx="601.9" cy="382.3" r="1.2"/><circle cx="606.8" cy="372.2" r="1.2"/><circle cx="601.2" cy="376.5" r="1.2"/><circle cx="609.1" cy="360.0" r="1.2"/><circle cx="611.8" cy="363.2" r="1.2"/><circle cx="615.3" cy="345.6" r="1.2"/><circle cx="603.8" cy="384.5" r="1.2"/><circle cx="607.0" cy="376.0" r="1.2"/><circle cx="602.8" cy="341.9" r="1.2"/><circle cx="616.6" cy="336.6" r="1.2"/><circle cx="619.8" cy="329.1" r="1.2"/><circle cx="613.4" cy="334.5" r="1.2"/></g></g>
<rect x="305" y="71" width="389" height="659" fill="none" stroke="#000" stroke-width="2"/>
<path d="M301 96.5H305 M301 158.5H305 M301 220.5H305 M301 282.5H305 M301 344.5H305 M301 406.5H305 M301 468.5H305 M301 530.5H305 M301 592.5H305 M301 654.5H305 M301 716.5H305 M319.5 730V735 M352.5 730V735 M386.5 730V735 M419.5 730V735 M452.5 730V735 M486.5 730V735 M519.5 730V735 M552.5 730V735 M585.5 730V735 M619.5 730V735 M652.5 730V735 M685.5 730V735" stroke="#000" stroke-width="1" fill="none"/>
<text x="261.90" y="102.60" font-size="15.8" textLength="35.5" lengthAdjust="spacingAndGlyphs" stroke="#fff" stroke-width="0.0">18.6N</text>
<text x="261.90" y="164.60" font-size="15.8" textLength="35.5" lengthAdjust="spacingAndGlyphs" stroke="#fff" stroke-width="0.0">18.3N</text>
<text x="273.95" y="226.60" font-size="15.8" textLength="23.25" lengthAdjust="spacingAndGlyphs" stroke="#fff" stroke-width="0.0">18N</text>
<text x="261.90" y="288.60" font-size="15.8" textLength="35.5" lengthAdjust="spacingAndGlyphs" stroke="#fff" stroke-width="0.0">17.7N</text>
<text x="261.90" y="350.60" font-size="15.8" textLength="35.5" lengthAdjust="spacingAndGlyphs" stroke="#fff" stroke-width="0.0">17.4N</text>
<text x="261.90" y="412.60" font-size="15.8" textLength="35.5" lengthAdjust="spacingAndGlyphs" stroke="#fff" stroke-width="0.0">17.1N</text>
<text x="261.90" y="474.60" font-size="15.8" textLength="35.5" lengthAdjust="spacingAndGlyphs" stroke="#fff" stroke-width="0.0">16.8N</text>
<text x="261.90" y="536.60" font-size="15.8" textLength="35.5" lengthAdjust="spacingAndGlyphs" stroke="#fff" stroke-width="0.0">16.5N</text>
<text x="261.90" y="598.60" font-size="15.8" textLength="35.5" lengthAdjust="spacingAndGlyphs" stroke="#fff" stroke-width="0.0">16.2N</text>
<text x="261.90" y="660.60" font-size="15.8" textLength="35.5" lengthAdjust="spacingAndGlyphs" stroke="#fff" stroke-width="0.0">15.9N</text>
<text x="261.90" y="722.60" font-size="15.8" textLength="35.5" lengthAdjust="spacingAndGlyphs" stroke="#fff" stroke-width="0.0">15.6N</text>
<text x="300.80" y="748.9" font-size="15.8" textLength="38.0" lengthAdjust="spacingAndGlyphs" stroke="#fff" stroke-width="0.0">89.6W</text>
<text x="333.80" y="748.9" font-size="15.8" textLength="38.0" lengthAdjust="spacingAndGlyphs" stroke="#fff" stroke-width="0.0">89.4W</text>
<text x="367.80" y="748.9" font-size="15.8" textLength="38.0" lengthAdjust="spacingAndGlyphs" stroke="#fff" stroke-width="0.0">89.2W</text>
<text x="408.00" y="748.9" font-size="15.8" textLength="24.0" lengthAdjust="spacingAndGlyphs" stroke="#fff" stroke-width="0.0">89W</text>
<text x="433.80" y="748.9" font-size="15.8" textLength="38.0" lengthAdjust="spacingAndGlyphs" stroke="#fff" stroke-width="0.0">88.8W</text>
<text x="467.80" y="748.9" font-size="15.8" textLength="38.0" lengthAdjust="spacingAndGlyphs" stroke="#fff" stroke-width="0.0">88.6W</text>
<text x="500.80" y="748.9" font-size="15.8" textLength="38.0" lengthAdjust="spacingAndGlyphs" stroke="#fff" stroke-width="0.0">88.4W</text>
<text x="533.80" y="748.9" font-size="15.8" textLength="38.0" lengthAdjust="spacingAndGlyphs" stroke="#fff" stroke-width="0.0">88.2W</text>
<text x="574.00" y="748.9" font-size="15.8" textLength="24.0" lengthAdjust="spacingAndGlyphs" stroke="#fff" stroke-width="0.0">88W</text>
<text x="600.80" y="748.9" font-size="15.8" textLength="38.0" lengthAdjust="spacingAndGlyphs" stroke="#fff" stroke-width="0.0">87.8W</text>
<text x="633.80" y="748.9" font-size="15.8" textLength="38.0" lengthAdjust="spacingAndGlyphs" stroke="#fff" stroke-width="0.0">87.6W</text>
<text x="666.80" y="748.9" font-size="15.8" textLength="38.0" lengthAdjust="spacingAndGlyphs" stroke="#fff" stroke-width="0.0">87.4W</text>
<path d="M838.5 123.5L847.5 80.5L856.5 123.5Z" fill="#f00082" stroke="#000" stroke-width="1"/><rect x="838.5" y="123.5" width="18.0" height="43.0" fill="#fa3c3c" stroke="#000" stroke-width="1"/><rect x="838.5" y="166.5" width="18.0" height="42.0" fill="#f08228" stroke="#000" stroke-width="1"/><rect x="838.5" y="208.5" width="18.0" height="43.0" fill="#e6af2d" stroke="#000" stroke-width="1"/><rect x="838.5" y="251.5" width="18.0" height="43.0" fill="#e6dc32" stroke="#000" stroke-width="1"/><rect x="838.5" y="294.5" width="18.0" height="42.0" fill="#a0e632" stroke="#000" stroke-width="1"/><rect x="838.5" y="336.5" width="18.0" height="43.0" fill="#00dc00" stroke="#000" stroke-width="1"/><rect x="838.5" y="379.5" width="18.0" height="43.0" fill="#00d28c" stroke="#000" stroke-width="1"/><rect x="838.5" y="422.5" width="18.0" height="42.0" fill="#00c8c8" stroke="#000" stroke-width="1"/><rect x="838.5" y="464.5" width="18.0" height="43.0" fill="#00a0ff" stroke="#000" stroke-width="1"/><rect x="838.5" y="507.5" width="18.0" height="43.0" fill="#1e3cff" stroke="#000" stroke-width="1"/><rect x="838.5" y="550.5" width="18.0" height="42.0" fill="#8200dc" stroke="#000" stroke-width="1"/><rect x="838.5" y="592.5" width="18.0" height="43.0" fill="#a000c8" stroke="#000" stroke-width="1"/><rect x="838.5" y="635.5" width="18.0" height="43.0" fill="#aaaaaa" stroke="#000" stroke-width="1"/><path d="M838.5 678.5L847.5 719.5L856.5 678.5Z" fill="#fff" stroke="#000" stroke-width="1"/>
<text x="861.30" y="130.40" font-size="17.5" textLength="32.0" lengthAdjust="spacingAndGlyphs" stroke="#fff" stroke-width="0.25">250</text>
<text x="861.30" y="173.40" font-size="17.5" textLength="32.0" lengthAdjust="spacingAndGlyphs" stroke="#fff" stroke-width="0.25">220</text>
<text x="861.30" y="215.40" font-size="17.5" textLength="32.0" lengthAdjust="spacingAndGlyphs" stroke="#fff" stroke-width="0.25">180</text>
<text x="861.30" y="258.40" font-size="17.5" textLength="32.0" lengthAdjust="spacingAndGlyphs" stroke="#fff" stroke-width="0.25">140</text>
<text x="861.30" y="301.40" font-size="17.5" textLength="32.0" lengthAdjust="spacingAndGlyphs" stroke="#fff" stroke-width="0.25">110</text>
<text x="861.30" y="343.40" font-size="17.5" textLength="21.5" lengthAdjust="spacingAndGlyphs" stroke="#fff" stroke-width="0.25">80</text>
<text x="861.30" y="386.40" font-size="17.5" textLength="21.5" lengthAdjust="spacingAndGlyphs" stroke="#fff" stroke-width="0.25">50</text>
<text x="861.30" y="429.40" font-size="17.5" textLength="21.5" lengthAdjust="spacingAndGlyphs" stroke="#fff" stroke-width="0.25">30</text>
<text x="861.30" y="471.40" font-size="17.5" textLength="21.5" lengthAdjust="spacingAndGlyphs" stroke="#fff" stroke-width="0.25">25</text>
<text x="861.30" y="514.40" font-size="17.5" textLength="21.5" lengthAdjust="spacingAndGlyphs" stroke="#fff" stroke-width="0.25">20</text>
<text x="861.30" y="557.40" font-size="17.5" textLength="21.5" lengthAdjust="spacingAndGlyphs" stroke="#fff" stroke-width="0.25">15</text>
<text x="861.30" y="599.40" font-size="17.5" textLength="21.5" lengthAdjust="spacingAndGlyphs" stroke="#fff" stroke-width="0.25">10</text>
<text x="861.30" y="642.40" font-size="17.5" textLength="10.5" lengthAdjust="spacingAndGlyphs" stroke="#fff" stroke-width="0.25">5</text>
<text x="861.30" y="685.40" font-size="17.5" textLength="10.5" lengthAdjust="spacingAndGlyphs" stroke="#fff" stroke-width="0.25">1</text></svg>
</body></html>
